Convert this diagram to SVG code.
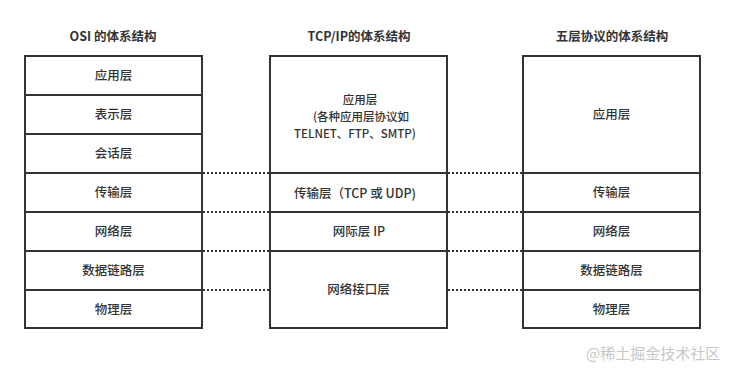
<svg xmlns="http://www.w3.org/2000/svg" width="736" height="374" viewBox="0 0 736 374">
<style>
.box{fill:#fff;stroke:#333;stroke-width:2}
.sep{stroke:#333;stroke-width:2}
.dot{stroke:#333;stroke-width:2;stroke-dasharray:2 2;fill:none}
text{font-family:"Microsoft YaHei","Noto Sans CJK SC",sans-serif;fill:#333;text-anchor:middle}
.title{font-size:12.5px;font-weight:700}
.cell{font-size:12.5px;font-weight:500}
.ml{font-size:11.5px;font-weight:500}
.wm{font-size:15px;fill:#c8c8c8;text-anchor:start}
</style>
<rect width="736" height="374" fill="#fff"/>
<g id="titles">
<text class="title" x="113" y="41">OSI 的体系结构</text>
<text class="title" x="359" y="41">TCP/IP的体系结构</text>
<text class="title" x="612" y="41">五层协议的体系结构</text>
</g>
<g id="connectors">
<line class="dot" x1="203" y1="173" x2="269" y2="173"/>
<line class="dot" x1="203" y1="212" x2="269" y2="212"/>
<line class="dot" x1="203" y1="251" x2="269" y2="251"/>
<line class="dot" x1="203" y1="290" x2="269" y2="290"/>
<line class="dot" x1="448" y1="173" x2="522" y2="173"/>
<line class="dot" x1="448" y1="212" x2="522" y2="212"/>
<line class="dot" x1="448" y1="251" x2="522" y2="251"/>
<line class="dot" x1="448" y1="290" x2="522" y2="290"/>
</g>
<g id="osi">
<rect class="box" x="25" y="56" width="177" height="272"/>
<line class="sep" x1="25" y1="95" x2="202" y2="95"/>
<line class="sep" x1="25" y1="134" x2="202" y2="134"/>
<line class="sep" x1="25" y1="173" x2="202" y2="173"/>
<line class="sep" x1="25" y1="212" x2="202" y2="212"/>
<line class="sep" x1="25" y1="251" x2="202" y2="251"/>
<line class="sep" x1="25" y1="290" x2="202" y2="290"/>
<text class="cell" x="113.5" y="80">应用层</text>
<text class="cell" x="113.5" y="119">表示层</text>
<text class="cell" x="113.5" y="158">会话层</text>
<text class="cell" x="113.5" y="197">传输层</text>
<text class="cell" x="113.5" y="236">网络层</text>
<text class="cell" x="113.5" y="275">数据链路层</text>
<text class="cell" x="113.5" y="314">物理层</text>
</g>
<g id="tcpip">
<rect class="box" x="270" y="56" width="177" height="272"/>
<line class="sep" x1="270" y1="173" x2="447" y2="173"/>
<line class="sep" x1="270" y1="212" x2="447" y2="212"/>
<line class="sep" x1="270" y1="251" x2="447" y2="251"/>
<text class="ml" x="360" y="104">应用层</text>
<text class="ml" x="361" y="120.8">(各种应用层协议如</text>
<text class="ml" x="355" y="137.6">TELNET、FTP、SMTP)</text>
<text class="cell" x="355" y="198">传输层（TCP 或 UDP)</text>
<text class="cell" x="359" y="236">网际层 IP</text>
<text class="cell" x="358.5" y="294">网络接口层</text>
</g>
<g id="five">
<rect class="box" x="523" y="56" width="177" height="272"/>
<line class="sep" x1="523" y1="173" x2="700" y2="173"/>
<line class="sep" x1="523" y1="212" x2="700" y2="212"/>
<line class="sep" x1="523" y1="251" x2="700" y2="251"/>
<line class="sep" x1="523" y1="290" x2="700" y2="290"/>
<text class="cell" x="611.5" y="119">应用层</text>
<text class="cell" x="611.5" y="197">传输层</text>
<text class="cell" x="611.5" y="236">网络层</text>
<text class="cell" x="611.5" y="275">数据链路层</text>
<text class="cell" x="611.5" y="314">物理层</text>
</g>
<text class="wm" x="586" y="359">@稀土掘金技术社区</text>
</svg>
